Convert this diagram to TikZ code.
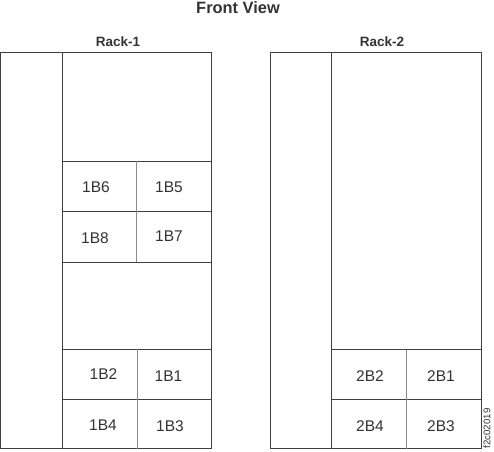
\documentclass[tikz,border=0pt]{standalone}
\usepackage{fontspec}
\setmainfont{Liberation Sans}
\definecolor{rackline}{gray}{0.25}
\definecolor{slotline}{gray}{0.55}
\definecolor{racktext}{gray}{0.2}
\tikzset{
  rackbox/.style = {draw = rackline, line width = 0.9pt},
  slotedge/.style = {draw = slotline, line width = 0.9pt},
  baylabel/.style = {text = racktext, font = \fontsize{15.5}{18}\selectfont, inner sep = 0pt},
  racklabel/.style = {text = racktext, font = \fontsize{13.5}{16}\selectfont\bfseries, inner sep = 0pt},
}
\begin{document}
\begin{tikzpicture}[x = 1pt, y = -1pt]
\useasboundingbox (0,0) rectangle (494,451);
\pgfmathsetmacro\racktop{52}
\pgfmathsetmacro\rackbot{448.5}
\node[racklabel, font = \fontsize{16.4}{19}\selectfont\bfseries] (title) at (238,8) {Front View};
\node[racklabel] (rackone) at (118,42) {Rack-1};
\node[racklabel] (racktwo) at (382,42) {Rack-2};
% rack 1
\draw [rackbox] (0.5,\racktop) rectangle (211,\rackbot);
\draw [rackbox] (62.5,\racktop) -- (62.5,\rackbot);
\foreach \y in {161,211,262,349,399} \draw [rackbox] (62.5,\y) -- (211,\y);
\draw [slotedge] (136.5,161) -- (136.5,262);
\draw [slotedge] (137,349) -- (137,\rackbot);
% rack 2
\draw [rackbox] (270,\racktop) rectangle (481,\rackbot);
\draw [rackbox] (331,\racktop) -- (331,\rackbot);
\foreach \y in {349.5,399} \draw [rackbox] (331,\y) -- (481,\y);
\draw [slotedge] (406,349.5) -- (406,\rackbot);
% bays
\node[baylabel] (b6) at (96,187) {1B6};
\node[baylabel] (b5) at (169,187) {1B5};
\node[baylabel] (b8) at (95,238) {1B8};
\node[baylabel] (b7) at (169,236) {1B7};
\node[baylabel] (b2) at (103.5,374) {1B2};
\node[baylabel] (b1) at (168.5,376) {1B1};
\node[baylabel] (b4) at (103,425) {1B4};
\node[baylabel] (b3) at (170,426.5) {1B3};
\node[baylabel] (c2) at (370,376) {2B2};
\node[baylabel] (c1) at (441,376) {2B1};
\node[baylabel] (c4) at (370,426) {2B4};
\node[baylabel] (c3) at (441,426) {2B3};
\node[baylabel, font = \fontsize{9.7}{11}\selectfont, rotate = 90] (figid) at (487,428.5) {f2c02019};
\end{tikzpicture}
\end{document}
